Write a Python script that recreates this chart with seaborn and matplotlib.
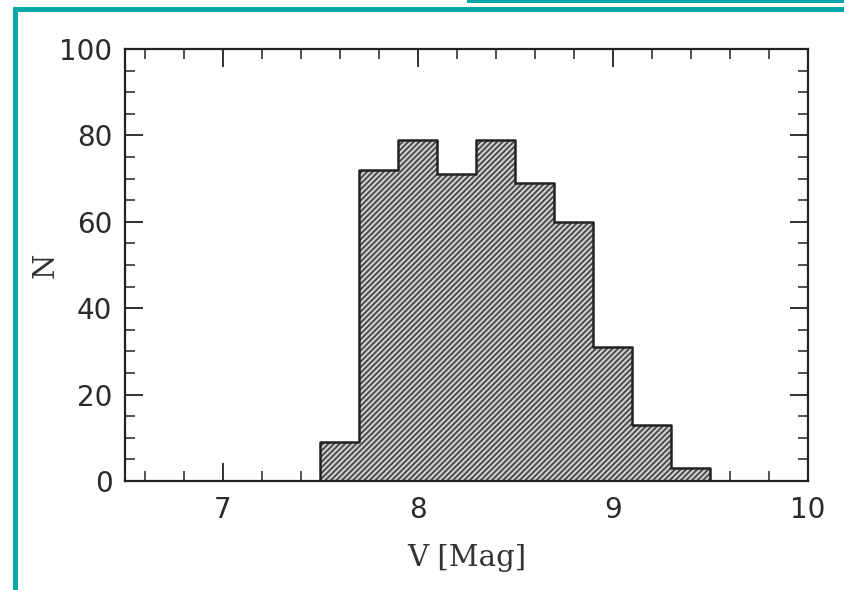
import matplotlib
matplotlib.use("Agg")
import matplotlib.pyplot as plt
import seaborn as sns
import numpy as np
import pandas as pd
from matplotlib.patches import Rectangle
from matplotlib.ticker import MultipleLocator

# Data: V magnitude histogram (bin edges 0.2 mag wide)
bin_edges = [7.5, 7.7, 7.9, 8.1, 8.3, 8.5, 8.7, 8.9, 9.1, 9.3, 9.5]
counts = [9, 72, 79, 71, 79, 69, 60, 31, 13, 3]
bin_centers = [round((a + b) / 2, 3) for a, b in zip(bin_edges[:-1], bin_edges[1:])]
x_ticks = [7, 8, 9, 10]
y_ticks = [0, 20, 40, 60, 80, 100]

df = pd.DataFrame({"V": bin_centers, "N": counts})

sns.set_theme(style="ticks")
plt.rcParams["hatch.linewidth"] = 1.4

fig = plt.figure(figsize=(8.44, 5.90), dpi=100)
ax = fig.add_axes([125 / 844, 1 - 481 / 590, (808 - 125) / 844, (481 - 49) / 590])

# hatched fill
sns.histplot(data=df, x="V", weights="N", bins=bin_edges, element="step",
             fill=True, color="white", linewidth=0, alpha=1.0, ax=ax)
for coll in ax.collections:
    coll.set_hatch("//////")
    coll.set_edgecolor("#4a4a4a")
    coll.set_facecolor("#d4d4d4")
n_fill = len(ax.collections)
# dark outline (closed step polygon)
sns.histplot(data=df, x="V", weights="N", bins=bin_edges, element="step",
             fill=True, color="white", alpha=1.0, ax=ax)
for coll in ax.collections[n_fill:]:
    coll.set_facecolor("none")
    coll.set_edgecolor("#222222")
    coll.set_linewidth(1.8)

ax.set_xlim(6.5, 10)
ax.set_ylim(0, 100)
ax.set_xticks(x_ticks)
ax.set_yticks(y_ticks)
ax.xaxis.set_minor_locator(MultipleLocator(0.2))
ax.yaxis.set_minor_locator(MultipleLocator(5))
ax.tick_params(which="both", direction="in", top=True, right=True, color="#222222")
ax.tick_params(which="major", length=13, width=1.3)
ax.tick_params(which="minor", length=7, width=1.1)
ax.tick_params(axis="x", pad=11)
ax.tick_params(axis="y", pad=9)
for lab in ax.get_xticklabels() + ax.get_yticklabels():
    lab.set_fontfamily("DejaVu Sans")
    lab.set_fontsize(20)
    lab.set_color("#2a2a2a")
for sp in ax.spines.values():
    sp.set_linewidth(1.6)
    sp.set_color("#222222")

ax.set_xlabel("V [Mag]", fontfamily="DejaVu Serif", fontsize=21, color="#333333", labelpad=14)
ax.set_ylabel("N", fontfamily="DejaVu Serif", fontsize=21, color="#333333", labelpad=0)

teal = "#0aa8a8"
# left and top teal frame lines
fig.add_artist(Rectangle((13 / 844, 0), 5 / 844, 1 - 7 / 590, transform=fig.transFigure,
                         color=teal, lw=0))
fig.add_artist(Rectangle((13 / 844, 1 - 12 / 590), 1, 5 / 590, transform=fig.transFigure,
                         color=teal, lw=0))
fig.add_artist(Rectangle((467 / 844, 1 - 2.5 / 590), 1, 2.5 / 590, transform=fig.transFigure,
                         color=teal, lw=0))

fig.savefig("out.png", dpi=100)
